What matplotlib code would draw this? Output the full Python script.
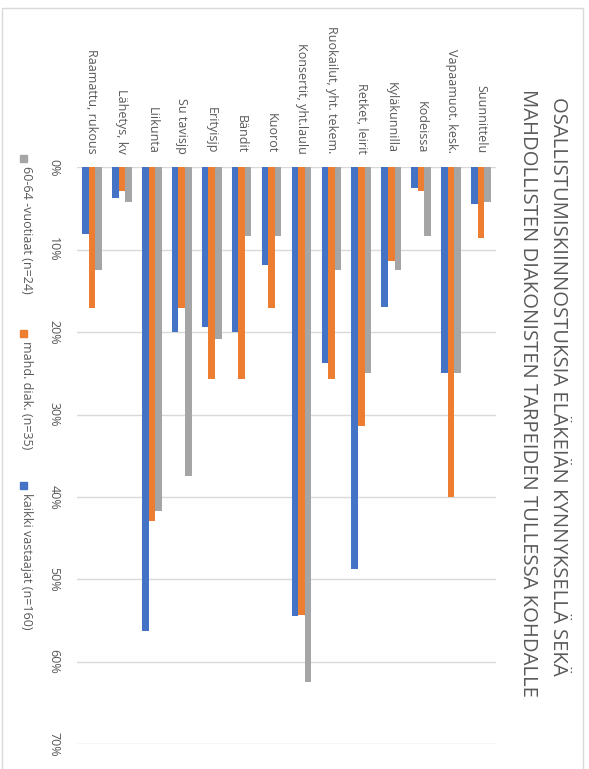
import numpy as np
import matplotlib.pyplot as plt
from matplotlib.patches import Rectangle
from matplotlib.ticker import PercentFormatter

plt.rcParams['font.family'] = ['Open Sans', 'DejaVu Sans']

categories = ['Raamattu, rukous', 'Lähetys, kv', 'Liikunta', 'Su tavisjp',
              'Erityisjp', 'Bändit', 'Kuorot', 'Konsertit, yht.laulu',
              'Ruokailut, yht. tekem.', 'Retket, leirit', 'Kyläkunnilla',
              'Kodeissa', 'Vapaamuot. kesk.', 'Suunnittelu']

# shares of respondents (%)
kaikki = [8.1, 3.75, 56.25, 20.0, 19.4, 20.0, 11.9, 54.4, 23.75, 48.75,
          16.9, 2.5, 25.0, 4.4]
mahd_diak = [17.1, 2.9, 42.9, 17.1, 25.7, 25.7, 17.1, 54.3, 25.7, 31.4,
             11.4, 2.9, 40.0, 8.6]
v60_64 = [12.5, 4.2, 41.7, 37.5, 20.8, 8.3, 8.3, 62.5, 12.5, 25.0,
          12.5, 8.3, 25.0, 4.2]

series = [('kaikki vastaajat (n=160)', kaikki, '#4472C4'),
          ('mahd. diak. (n=35)', mahd_diak, '#ED7D31'),
          ('60-64 -vuotiaat (n=24)', v60_64, '#A5A5A5')]

title1 = 'OSALLISTUMISKIINNOSTUKSIA ELÄKEIÄN KYNNYKSELLÄ SEKÄ'
title2 = 'MAHDOLLISTEN DIAKONISTEN TARPEIDEN TULLESSA KOHDALLE'

W, H = 589, 769
txt = '#595959'

fig = plt.figure(figsize=(W / 100, H / 100), dpi=100)
ax = fig.add_axes([77 / W, 1 - 744.3 / H, (496 - 77) / W, (744.3 - 167.3) / H])

x = np.arange(len(categories))
bw = 0.22
for i, (name, vals, col) in enumerate(series):
    ax.bar(x + (i - 1) * bw, vals, bw, color=col, zorder=3)

ax.set_xlim(-0.5, len(categories) - 0.5)
ax.set_ylim(70, 0)
ax.set_yticks(np.arange(0, 71, 10))
ax.yaxis.set_major_formatter(PercentFormatter(decimals=0))
ax.yaxis.grid(True, color='#d9d9d9', linewidth=1.0, zorder=0)
for s in ax.spines.values():
    s.set_visible(False)

ax.xaxis.tick_top()
ax.set_xticks(x)
ax.set_xticklabels(categories, rotation=-90, fontsize=9, color=txt)
ax.tick_params(axis='x', length=0, pad=10)
ax.tick_params(axis='y', length=0, pad=12, labelsize=9, labelcolor=txt)
for lab in ax.get_yticklabels():
    lab.set_rotation(-90)
    lab.set_va('center')

# title, rotated like the rest of the chart
fig.text(558 / W, 1 - 386 / H, title1, rotation=-90, ha='center', va='center',
         fontsize=14.6, color=txt)
fig.text(528 / W, 1 - 393 / H, title2, rotation=-90, ha='center', va='center',
         fontsize=14.6, color=txt)

# legend drawn by hand (rotated)
leg_pos = [(482, 'kaikki vastaajat (n=160)'), (330, 'mahd. diak. (n=35)'),
           (155, '60-64 -vuotiaat (n=24)')]
for (ytop, label), (name, vals, col) in zip(leg_pos, series):
    fig.patches.append(Rectangle((20 / W, 1 - (ytop + 7) / H), 7 / W, 7 / H,
                                 transform=fig.transFigure, color=col))
    fig.text(26 / W, 1 - (ytop + 11) / H, label, rotation=-90, ha='center',
             va='top', fontsize=9, color=txt)

# chart frame
fig.patches.append(Rectangle((2 / W, -0.05), 581 / W, 1.05 - 8 / H,
                             transform=fig.transFigure, fill=False,
                             edgecolor='#d9d9d9', linewidth=1.0))

fig.savefig('out.png', dpi=100)
